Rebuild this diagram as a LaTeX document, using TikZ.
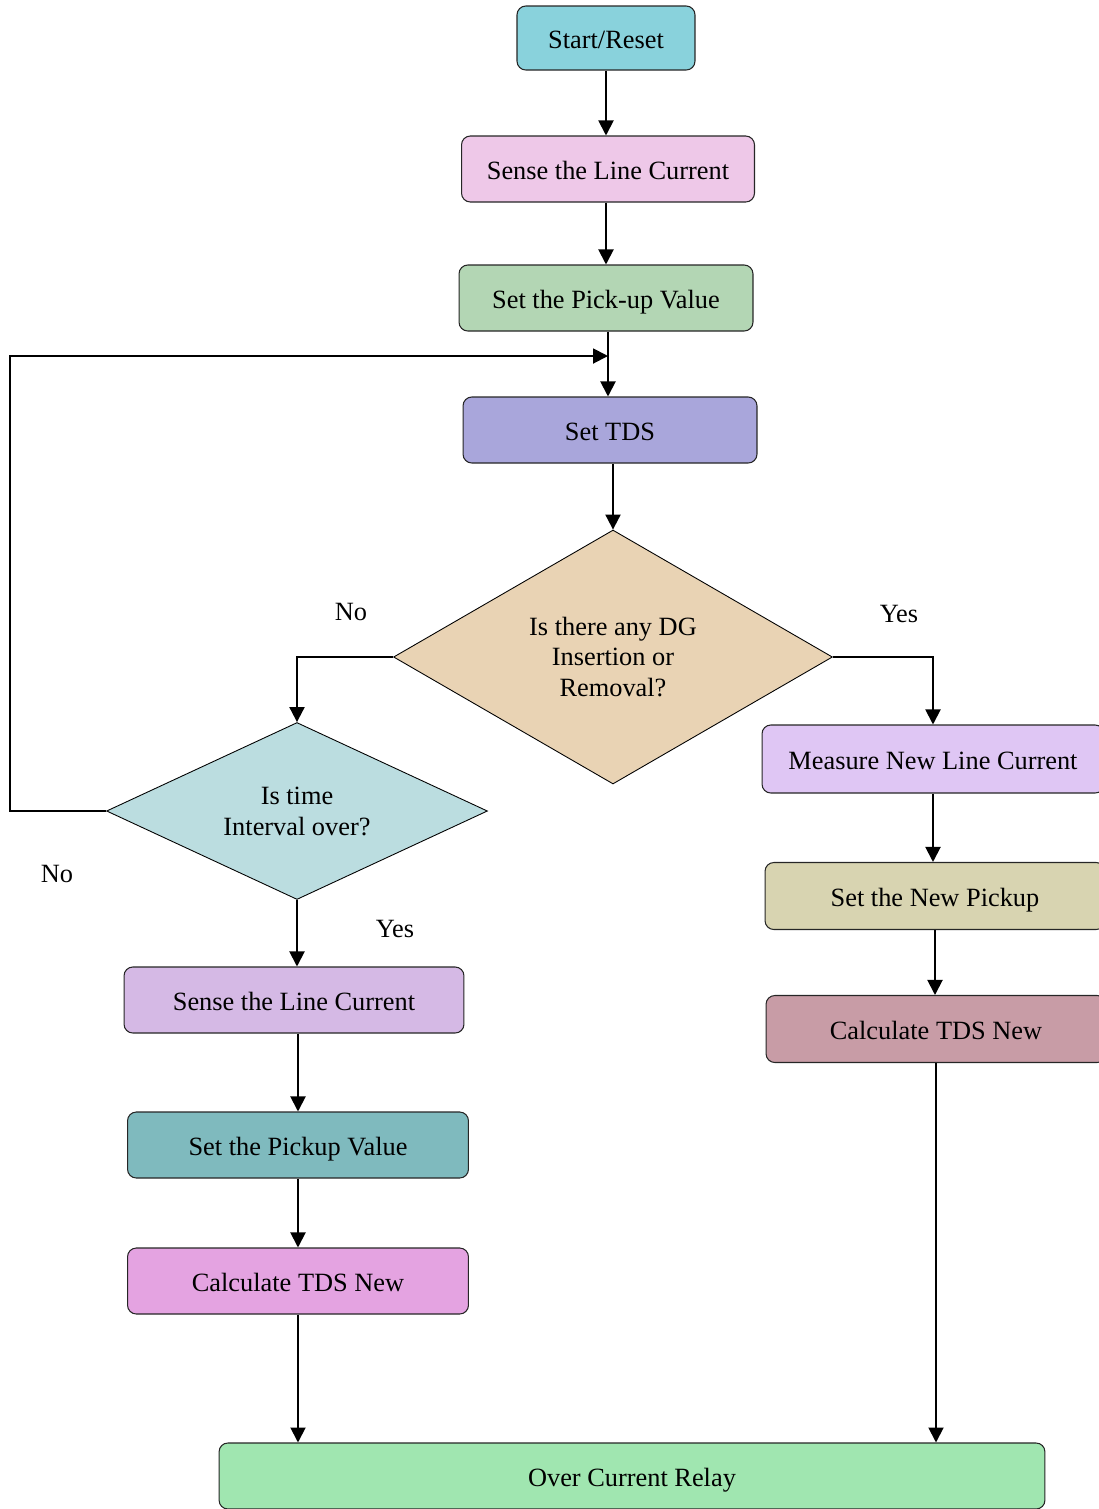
\documentclass[tikz,border=0pt]{standalone}
\usepackage{fontspec}
\setmainfont{Liberation Serif}
\usepackage{xcolor}
\usetikzlibrary{arrows.meta,calc,positioning,shapes.geometric}
\definecolor{fcstart}{RGB}{137,210,220}
\definecolor{fcsense}{RGB}{238,200,232}
\definecolor{fcpick}{RGB}{179,214,180}
\definecolor{fctds}{RGB}{169,166,219}
\definecolor{fcdg}{RGB}{233,211,180}
\definecolor{fctime}{RGB}{187,221,224}
\definecolor{fcmeasure}{RGB}{223,198,244}
\definecolor{fcnewpick}{RGB}{216,212,177}
\definecolor{fccalcr}{RGB}{200,156,166}
\definecolor{fcsensel}{RGB}{213,185,229}
\definecolor{fcpickl}{RGB}{127,186,190}
\definecolor{fccalcl}{RGB}{228,163,225}
\definecolor{fcrelay}{RGB}{160,230,176}
\begin{document}
\begin{tikzpicture}[x=0.02cm,y=-0.02cm,>={Triangle[length=0.3cm,width=0.3cm]},every node/.style={font=\fontsize{15}{17.6}\selectfont}]
  \tikzset{
    box/.style={draw=black!85,rounded corners=5pt,line width=0.6pt,minimum height=1.32cm,inner xsep=4pt,text height=13pt,text depth=0.5pt},
    decision/.style={diamond,draw=black,line width=0.5pt,inner sep=0pt,align=center},
    conn/.style={draw=black,line width=1.1pt,->},
    lbl/.style={inner sep=0pt}
  }
  \useasboundingbox (0,0) rectangle (1099,1509);
  % main column
  \node[box,fill=fcstart,minimum width=3.56cm,minimum height=1.28cm] (start) at (606,38) {Start/Reset};
  \node[box,fill=fcsense,minimum width=5.86cm] (sense) at (608,169) {Sense the Line Current};
  \node[box,fill=fcpick,minimum width=5.88cm] (pick) at (606,298) {Set the Pick-up Value};
  \node[box,fill=fctds,minimum width=5.88cm] (tds) at (610,430) {Set TDS};
  \node[decision,fill=fcdg,minimum width=8.78cm,minimum height=5.08cm,aspect=1.73] (dg) at (613,657) {Is there any DG\\ Insertion or\\ Removal?};
  % left branch
  \node[decision,fill=fctime,minimum width=7.62cm,minimum height=3.54cm,aspect=2.15] (tint) at (297,811) {Is time\\ Interval over?};
  \node[box,fill=fcsensel,minimum width=6.8cm] (sensel) at (294,1000) {Sense the Line Current};
  \node[box,fill=fcpickl,minimum width=6.82cm] (pickl) at (298,1145) {Set the Pickup Value};
  \node[box,fill=fccalcl,minimum width=6.82cm] (calcl) at (298,1281) {Calculate TDS New};
  % right branch
  \node[box,fill=fcmeasure,minimum width=6.84cm,minimum height=1.36cm] (measure) at (933,759) {Measure New Line Current};
  \node[box,fill=fcnewpick,minimum width=6.8cm,minimum height=1.34cm] (newpick) at (935,896) {Set the New Pickup};
  \node[box,fill=fccalcr,minimum width=6.8cm,minimum height=1.34cm] (calcr) at (936,1029) {Calculate TDS New};
  % output
  \node[box,fill=fcrelay,minimum width=16.52cm] (relay) at (632,1476) {Over Current Relay};
  % labels
  \node[lbl] (nodg) at (351,612) {No};
  \node[lbl] (yesdg) at (899,614) {Yes};
  \node[lbl] (notime) at (57,874) {No};
  \node[lbl] (yestime) at (395,929) {Yes};
  \coordinate (merge) at (608,356);
  \coordinate (loop) at (10,356);
  \draw[conn] (start.south) -- (start.south |- sense.north);
  \draw[conn] (sense.south -| start.south) -- (start.south |- pick.north);
  \draw[conn] (pick.south -| merge) -- (merge |- tds.north);
  \draw[conn] (tds.south -| dg.north) -- (dg.north);
  \draw[conn] (dg.west) -| (tint.north);
  \draw[conn] (dg.east) -| (measure.north);
  \draw[conn] (tint.west) -| (loop) -- (merge);
  \draw[conn] (tint.south) -- (tint.south |- sensel.north);
  \draw[conn] (sensel.south -| pickl.north) -- (pickl.north);
  \draw[conn] (pickl.south) -- (calcl.north);
  \draw[conn] (calcl.south) -- (calcl.south |- relay.north);
  \draw[conn] (measure.south) -- (measure.south |- newpick.north);
  \draw[conn] (newpick.south) -- (newpick.south |- calcr.north);
  \draw[conn] (calcr.south) -- (calcr.south |- relay.north);
\end{tikzpicture}
\end{document}
